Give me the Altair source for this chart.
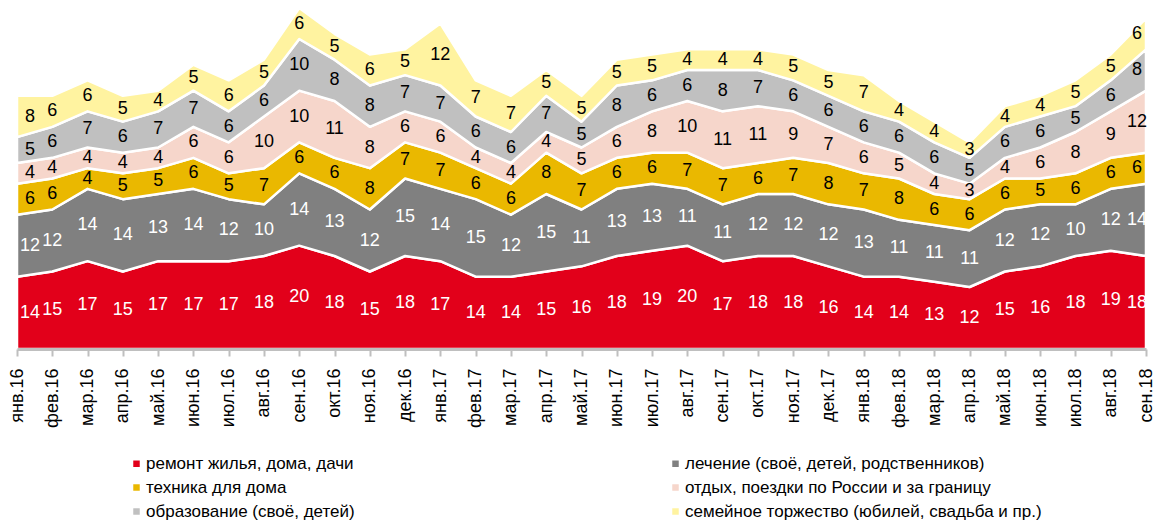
import altair as alt
import pandas as pd

months = ["янв.16", "фев.16", "мар.16", "апр.16", "май.16", "июн.16", "июл.16", "авг.16",
          "сен.16", "окт.16", "ноя.16", "дек.16", "янв.17", "фев.17", "мар.17", "апр.17",
          "май.17", "июн.17", "июл.17", "авг.17", "сен.17", "окт.17", "ноя.17", "дек.17",
          "янв.18", "фев.18", "мар.18", "апр.18", "май.18", "июн.18", "июл.18", "авг.18",
          "сен.18"]

series_names = [
    "ремонт жилья, дома, дачи",
    "лечение (своё, детей, родственников)",
    "техника для дома",
    "отдых, поездки по России и за границу",
    "образование (своё, детей)",
    "семейное торжество (юбилей, свадьба и пр.)",
]

remont = [14, 15, 17, 15, 17, 17, 17, 18, 20, 18, 15, 18, 17, 14, 14, 15, 16, 18, 19, 20, 17, 18, 18, 16,
          14, 14, 13, 12, 15, 16, 18, 19, 18]
lechenie = [12, 12, 14, 14, 13, 14, 12, 10, 14, 13, 12, 15, 14, 15, 12, 15, 11, 13, 13, 11, 11, 12, 12, 12,
            13, 11, 11, 11, 12, 12, 10, 12, 14]
tehnika = [6, 6, 4, 5, 5, 6, 5, 7, 6, 6, 8, 7, 7, 6, 6, 8, 7, 6, 6, 7, 7, 6, 7, 8,
           7, 8, 6, 6, 6, 5, 6, 6, 6]
otdyh = [4, 4, 4, 4, 4, 6, 6, 10, 10, 11, 8, 6, 6, 4, 4, 4, 5, 6, 8, 10, 11, 11, 9, 7,
         6, 5, 4, 3, 4, 6, 8, 9, 12]
obrazovanie = [5, 6, 7, 6, 7, 7, 6, 6, 10, 8, 8, 7, 7, 6, 6, 7, 5, 8, 6, 6, 8, 7, 6, 6,
               6, 6, 6, 5, 6, 6, 5, 6, 8]
torzhestvo = [8, 6, 6, 5, 4, 5, 6, 5, 6, 5, 6, 5, 12, 7, 7, 5, 5, 5, 5, 4, 4, 4, 5, 5,
              7, 4, 4, 3, 4, 4, 5, 5, 6]

colors = ["#E2001A", "#808080", "#EAB800", "#F6D6CB", "#C0C0C0", "#FFF3A0"]

all_series = [remont, lechenie, tehnika, otdyh, obrazovanie, torzhestvo]
rows = []
for k, (name, vals) in enumerate(zip(series_names, all_series)):
    for m, v in zip(months, vals):
        rows.append({"month": m, "series": name, "ord": k, "value": v})
df = pd.DataFrame(rows)

FONT = "Liberation Sans, Arial, sans-serif"

base = alt.Chart(df).transform_stack(
    stack="value",
    groupby=["month"],
    sort=[alt.SortField("ord", order="ascending")],
    as_=["y0", "y1"],
).transform_calculate(mid="(datum.y0 + datum.y1) / 2")

x_scale = alt.Scale(type="point", padding=0)
y_scale = alt.Scale(domain=[0, 66], nice=False, zero=True)

x_enc = alt.X(
    "month:N",
    sort=months,
    scale=x_scale,
    axis=alt.Axis(
        title=None,
        labelAngle=-90,
        labelFontSize=18,
        labelFont=FONT,
        labelColor="black",
        labelPadding=12,
        domainColor="#BFBFBF",
        domainWidth=3,
        tickColor="#BFBFBF",
        tickWidth=2,
        tickSize=7,
        grid=False,
        zindex=1,
    ),
)

area = base.mark_area(stroke="white", strokeWidth=2.5, strokeJoin="round", opacity=1).encode(
    x=x_enc,
    y=alt.Y("y1:Q", scale=y_scale, axis=None),
    y2="y0:Q",
    color=alt.Color(
        "series:N",
        sort=series_names,
        scale=alt.Scale(domain=series_names, range=colors),
        legend=alt.Legend(
            title=None,
            orient="none",
            direction="horizontal",
            legendX=111,
            legendY=447,
            columns=2,
            columnPadding=312,
            rowPadding=6,
            symbolType="square",
            symbolSize=42,
            symbolStrokeWidth=0,
            labelFontSize=17,
            labelFont=FONT,
            labelColor="black",
            labelOffset=1,
            labelLimit=0,
        ),
    ),
    order=alt.Order("ord:Q"),
)


def label_layer(filter_expr, dx):
    return base.transform_filter(filter_expr).mark_text(
        fontSize=18, font=FONT, baseline="middle", align="center", dx=dx
    ).encode(
        x=alt.X("month:N", sort=months, scale=x_scale),
        y=alt.Y("mid:Q", scale=y_scale, axis=None),
        text="value:Q",
        color=alt.condition("datum.ord < 2", alt.value("white"), alt.value("black")),
    )


first, last = months[0], months[-1]
labels_mid = label_layer(f"datum.month != '{first}' && datum.month != '{last}'", 0)
labels_first = label_layer(f"datum.month == '{first}'", 13)
labels_last = label_layer(f"datum.month == '{last}'", -9)

chart = alt.layer(area, labels_mid, labels_first, labels_last).properties(
    width=1129,
    height=341,
    autosize=alt.AutoSizeParams(type="none"),
    padding={"left": 9, "top": 0, "right": 8, "bottom": 172},
).configure_view(stroke=None)

chart.save("out.html", embed_options={"renderer": "svg", "actions": False})
